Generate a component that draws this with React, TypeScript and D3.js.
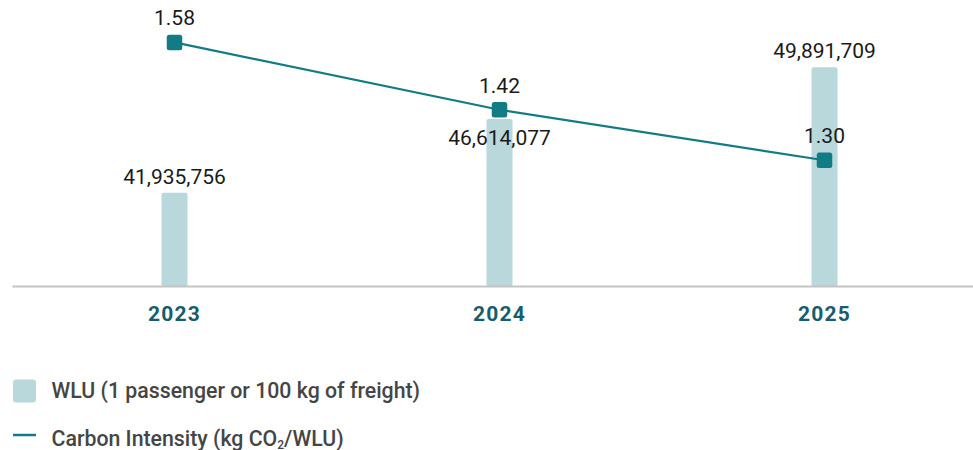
import React from "react";
import * as d3 from "d3";

const years = ["2023", "2024", "2025"];
const wluValues = [41935756, 46614077, 49891709];
const intensityValues = [1.58, 1.42, 1.3];
const legendLabels = ["WLU (1 passenger or 100 kg of freight)", "Carbon Intensity (kg CO", "2", "/WLU)"];

const W = 973;
const H = 450;
const baseY = 286.5;
const topY = 34;

export default function App() {
  const x = d3.scaleBand<string>().domain(years).range([12, 987]).paddingInner(0).paddingOuter(0);
  const yBar = d3.scaleLinear().domain([36e6, 52e6]).range([baseY, topY]);
  const yLine = d3.scaleLinear().domain([1.0, 1.6]).range([baseY, topY]);
  const barW = 26;
  const cx = (d: string) => (x(d) as number) + x.bandwidth() / 2;
  const fmt = d3.format(",");
  const line = d3
    .line<number>()
    .x((_, i) => cx(years[i]))
    .y((d) => yLine(d));
  const font = "Roboto, 'Noto Sans', sans-serif";
  const teal = "#127c84";
  const barColor = "#b8d8db";
  const ms = 15.5;

  return (
    <svg width={W} height={H} style={{ position: "absolute", left: 0, top: 0 }} fontFamily={font}>
      <rect x={0} y={0} width={W} height={H} fill="#fff" />
      {years.map((yr, i) => {
        const top = yBar(wluValues[i]);
        return (
          <rect key={"b" + yr} x={cx(yr) - barW / 2} y={top} width={barW} height={baseY - top} fill={barColor} rx={2} />
        );
      })}
      <line x1={12.5} x2={W} y1={baseY} y2={baseY} stroke="#c4c4c4" strokeWidth={2} />
      <path d={line(intensityValues) || ""} fill="none" stroke={teal} strokeWidth={2.2} />
      {years.map((yr, i) => {
        const my = yLine(intensityValues[i]);
        return (
          <rect key={"m" + yr} x={cx(yr) - ms / 2} y={my - ms / 2} width={ms} height={ms} rx={2.5} fill={teal} />
        );
      })}
      {years.map((yr, i) => {
        const my = yLine(intensityValues[i]);
        return (
          <text key={"lv" + yr} x={cx(yr)} y={my - 17} textAnchor="middle" fontSize={21} fill="#1a1a1a">
            {intensityValues[i].toFixed(2)}
          </text>
        );
      })}
      {years.map((yr, i) => {
        const top = yBar(wluValues[i]);
        const my = yLine(intensityValues[i]);
        const collide = Math.abs(top - my) < 30;
        const ty = collide ? my + 35 : top - 9;
        return (
          <text key={"bv" + yr} x={cx(yr)} y={ty} textAnchor="middle" fontSize={21} fill="#1a1a1a">
            {fmt(wluValues[i])}
          </text>
        );
      })}
      {years.map((yr) => (
        <text
          key={"yr" + yr}
          x={cx(yr)}
          y={320.5}
          textAnchor="middle"
          fontSize={21}
          fontWeight={700}
          letterSpacing={1.2}
          fill="#175d6c"
        >
          {yr}
        </text>
      ))}
      <rect x={13} y={379.5} width={23} height={23} rx={3} fill={barColor} />
      <text x={51.5} y={398} fontSize={21.3} fontWeight={500} fill="#454545">
        {legendLabels[0]}
      </text>
      <line x1={13} x2={36} y1={435} y2={435} stroke={teal} strokeWidth={2.5} />
      <text x={51.5} y={445.5} fontSize={21.3} fontWeight={500} fill="#454545">
        {legendLabels[1]}
        <tspan fontSize={12} dy={3}>
          {legendLabels[2]}
        </tspan>
        <tspan dy={-3}>{legendLabels[3]}</tspan>
      </text>
    </svg>
  );
}
